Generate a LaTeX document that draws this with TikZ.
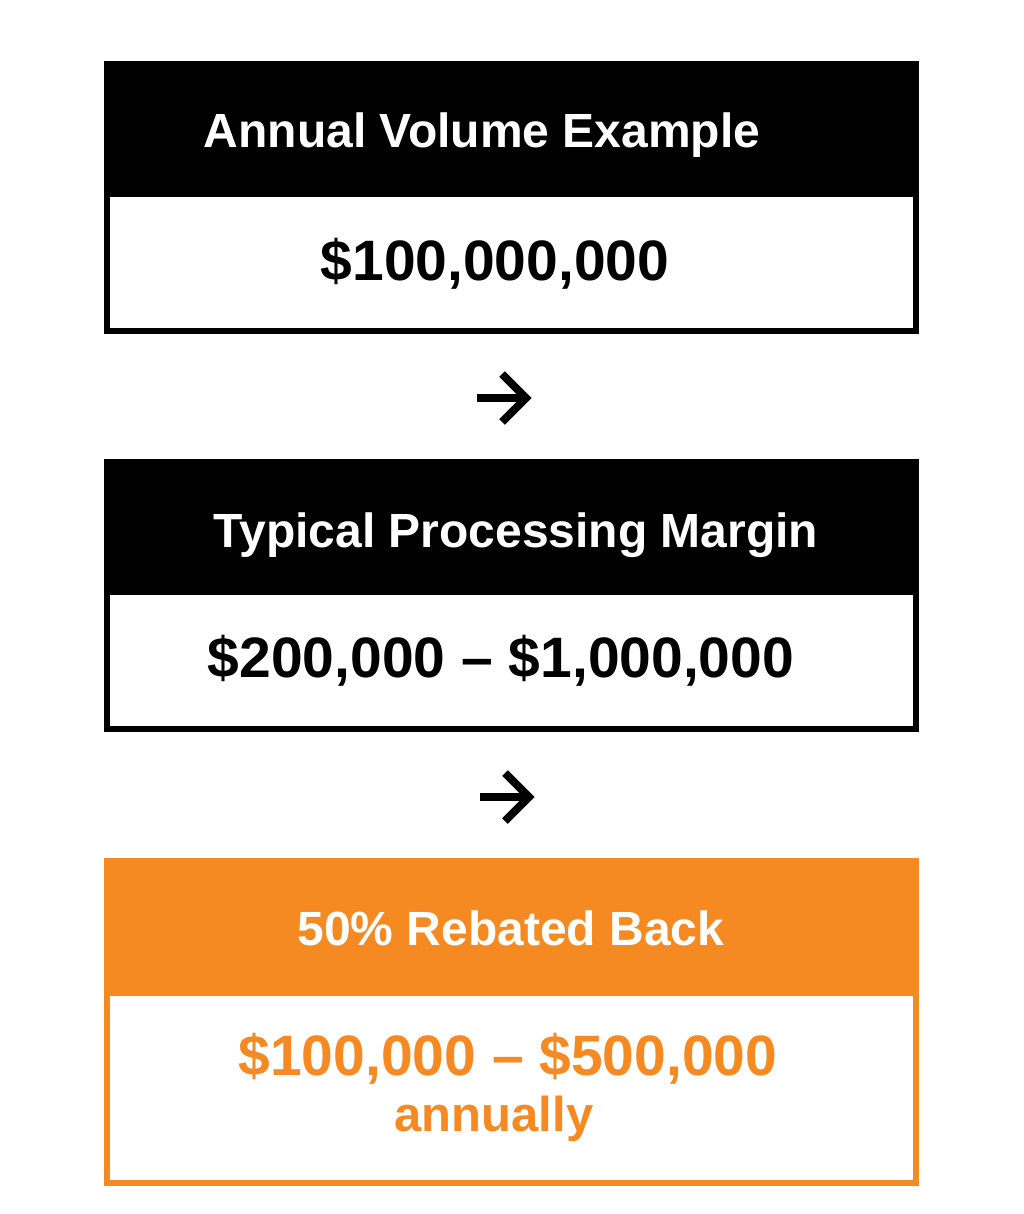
\documentclass[tikz,border=0pt]{standalone}
\usepackage{fontspec}
\setmainfont{Liberation Sans}
\definecolor{rebate}{HTML}{F48A21}

\begin{document}
\begin{tikzpicture}[x=1pt, y=-1pt,
  head/.style={rectangle, inner sep=0pt, minimum width=815pt, minimum height=133pt},
  panel/.style={rectangle, fill=white, line width=6pt, inner sep=0pt, minimum width=809pt, minimum height=137pt},
  headtext/.style={anchor=base, text=white, font=\bfseries\fontsize{48}{58}\selectfont},
  valtext/.style={anchor=base, font=\bfseries\fontsize{57}{68}\selectfont},
  arr/.style={line width=8pt, miter limit=10}]

\useasboundingbox[fill=white] (0,0) rectangle (1024,1214);

\node[head, fill=black] (head1) at (511.5,127.5) {};
\node[panel, draw=black] (panel1) at (511.5,262.5) {};
\node[headtext] (title1) at (482,148) {Annual Volume Example};
\node[valtext] (value1) at (495,281) {\$100,000,000};

\coordinate (a1s) at (477,398);
\coordinate (a1e) at (526,398);
\draw[arr] (a1s) -- (a1e);
\draw[arr] ([shift={(-24,-24)}]a1e) -- (a1e) -- ([shift={(-24,24)}]a1e);

\node[head, fill=black] (head2) at (511.5,525.5) {};
\node[panel, draw=black] (panel2) at (511.5,660.5) {};
\node[headtext] (title2) at (516,547) {Typical Processing Margin};
\node[valtext] (value2) at (501,677) {\$200,000 – \$1,000,000};

\coordinate (a2s) at (480,797);
\coordinate (a2e) at (529,797);
\draw[arr] (a2s) -- (a2e);
\draw[arr] ([shift={(-24,-24)}]a2e) -- (a2e) -- ([shift={(-24,24)}]a2e);

\node[head, fill=rebate, minimum height=135pt] (head3) at (511.5,925.5) {};
\node[panel, draw=rebate, minimum height=190pt] (panel3) at (511.5,1088) {};
\node[headtext] (title3) at (511,945) {50\% Rebated Back};
\node[valtext, text=rebate] (value3) at (508,1075) {\$100,000 – \$500,000};
\node[valtext, text=rebate, font=\bfseries\fontsize{49}{59}\selectfont] (value4) at (494,1131) {annually};

\end{tikzpicture}
\end{document}
